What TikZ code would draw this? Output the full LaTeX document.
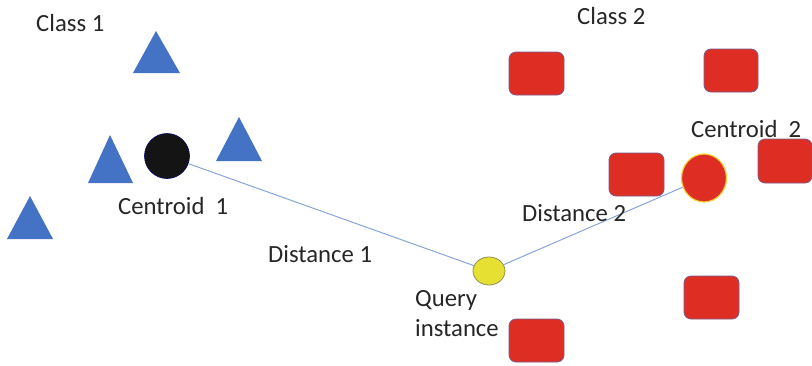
\documentclass[tikz,border=0pt]{standalone}
\usepackage{fontspec}
\setmainfont{Carlito}
\usetikzlibrary{shapes.geometric}
\definecolor{triblue}{HTML}{4472C4}
\definecolor{sqred}{HTML}{DE2E24}
\definecolor{sqedge}{HTML}{7A5A8A}
\definecolor{linkblue}{HTML}{87A5D8}
\definecolor{qfill}{HTML}{E6E032}
\definecolor{qedge}{HTML}{8F8F55}
\definecolor{cedge}{HTML}{F2D23A}
\begin{document}
\begin{tikzpicture}[x=1pt,y=-1pt,
  lbl/.style={anchor=base west,inner sep=0pt,font=\fontsize{24.7}{29}\selectfont,text=black!85},
  sq/.style={draw=sqedge,line width=0.8pt,fill=sqred,rounded corners=7pt},
  tri/.style={fill=triblue},
  link/.style={draw=linkblue,line width=1pt}]
\useasboundingbox (0,0) rectangle (812,365);
% triangles
\fill[tri] (133,73) -- (156,31) -- (180,73) -- cycle;
\fill[tri] (88,183) -- (110,135) -- (133,183) -- cycle;
\fill[tri] (216,161) -- (239,117) -- (262,161) -- cycle;
\fill[tri] (7,239) -- (30,196) -- (53,239) -- cycle;
% squares
\draw[sq] (509,52) rectangle (564,95);
\draw[sq] (704,49) rectangle (758,92);
\draw[sq] (609,153) rectangle (664,196);
\draw[sq] (758,139) rectangle (812,183);
\draw[sq] (684,276) rectangle (739,319);
\draw[sq] (509,319) rectangle (564,362);
% centroids and query
\node[circle,draw=black!60!blue,line width=0.6pt,fill=black!92,minimum size=45pt,inner sep=0pt] (c1) at (167,156) {};
\node[ellipse,draw=cedge,line width=1.2pt,fill=sqred,minimum width=45pt,minimum height=48pt,inner sep=0pt] (c2) at (704,178) {};
\node[ellipse,draw=qedge,line width=0.8pt,fill=qfill,minimum width=32pt,minimum height=28pt,inner sep=0pt] (q) at (489,271) {};
\draw[link] (c1) -- (q);
\draw[link] (c2) -- (q);
% labels
\node[lbl] (l1) at (36,31) {Class 1};
\node[lbl] (l2) at (577,24) {Class 2};
\node[lbl] (l3) at (118,214) {Centroid\ \ 1};
\node[lbl] (l4) at (691,137) {Centroid\ \ 2};
\node[lbl] (l5) at (268,262) {Distance 1};
\node[lbl] (l6) at (522,221) {Distance 2};
\node[lbl] (l7) at (415,306) {Query};
\node[lbl] (l8) at (415,336) {instance};
\end{tikzpicture}
\end{document}
